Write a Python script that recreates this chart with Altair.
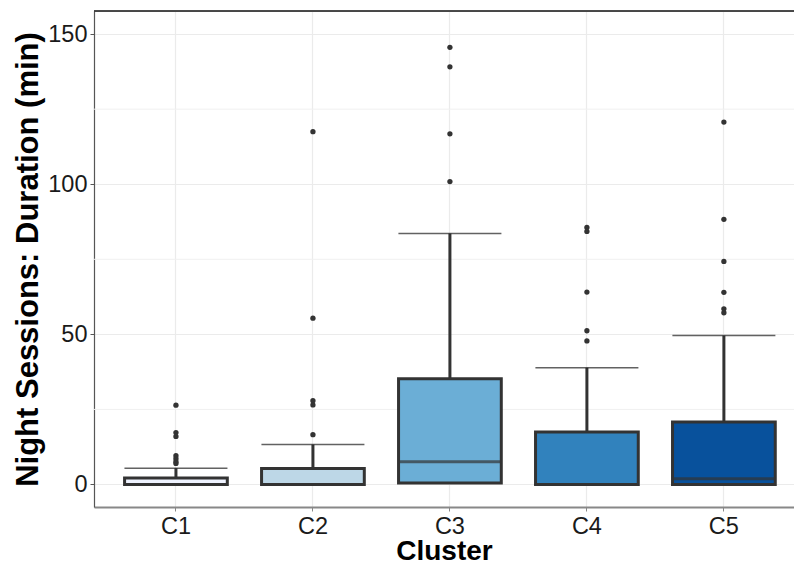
import altair as alt
import pandas as pd

clusters = ["C1", "C2", "C3", "C4", "C5"]
q1 = [0.0, 0.0, 0.5, 0.0, 0.0]
medians = [0.0, 0.0, 7.6, 0.0, 1.9]
q3 = [2.2, 5.3, 35.2, 17.5, 20.8]
upper = [5.4, 13.3, 83.6, 38.9, 49.6]
fills = ["#EFF3FF", "#BDD7E7", "#6BAED6", "#3182BD", "#08519C"]

out_c1 = [26.4, 17.3, 16.0, 9.6, 8.6, 7.6, 7.0]
out_c2 = [117.5, 55.4, 27.9, 26.5, 16.6]
out_c3 = [145.6, 139.1, 116.8, 100.9]
out_c4 = [85.6, 84.3, 64.1, 51.2, 47.8]
out_c5 = [120.7, 88.3, 74.3, 64.0, 58.5, 57.2]

minor_grid = [25, 75, 125]

box_df = pd.DataFrame({"cluster": clusters, "q1": q1, "median": medians,
                       "q3": q3, "upper": upper})
rows = []
for c, vals in zip(clusters, [out_c1, out_c2, out_c3, out_c4, out_c5]):
    for v in vals:
        rows.append({"cluster": c, "value": v})
out_df = pd.DataFrame(rows)
grid_df = pd.DataFrame({"g": minor_grid})

FONT = "Liberation Sans"
W, H = 700, 496

xscale = alt.Scale(type="band", domain=clusters, paddingInner=0.25,
                   paddingOuter=0.18, align=0.62, round=False)
yscale = alt.Scale(domain=[-7.5, 157.7], nice=False, zero=False)

xenc = alt.X("cluster:N", scale=xscale, title="Cluster",
             axis=alt.Axis(labelAngle=0, labelFontSize=23.5, labelColor="#1a1a1a",
                           titleFontSize=28, titleFontWeight="bold", titleColor="black",
                           titlePadding=-0.5, labelPadding=3, tickSize=4, tickColor="#888",
                           domainColor="#888", domainWidth=2, grid=True,
                           gridColor="#EBEBEB", gridWidth=1.2, bandPosition=0.5,
                           labelFont=FONT, titleFont=FONT))
yaxis = alt.Axis(values=[0, 50, 100, 150], labelFontSize=23.5, labelColor="#1a1a1a",
                 titleFontSize=31, titleFontWeight="bold", titleColor="black",
                 titlePadding=3, labelPadding=3, tickSize=4, tickColor="#555",
                 domainColor="#555", domainWidth=1.2, grid=True,
                 gridColor="#EBEBEB", gridWidth=1.2, labelFont=FONT, titleFont=FONT)

base = alt.Chart(box_df)

minor = alt.Chart(grid_df).mark_rule(color="#F0F0F0", strokeWidth=1).encode(
    y=alt.Y("g:Q", scale=yscale, axis=yaxis, title="Night Sessions: Duration (min)")
)

whisker = base.mark_rule(color="#333333", strokeWidth=3).encode(
    x=xenc,
    y=alt.Y("q3:Q", scale=yscale),
    y2="upper:Q",
)

caps = base.mark_tick(color="#1f1f1f", thickness=1.5, size=103, orient="horizontal").encode(
    x=alt.X("cluster:N", scale=xscale),
    y=alt.Y("upper:Q", scale=yscale),
)

boxes = base.mark_bar(stroke="#333333", strokeWidth=3).encode(
    x=alt.X("cluster:N", scale=xscale),
    y=alt.Y("q1:Q", scale=yscale),
    y2="q3:Q",
    fill=alt.Fill("cluster:N", scale=alt.Scale(domain=clusters, range=fills), legend=None),
)

med = base.mark_tick(color="#333333", thickness=3, size=103, orient="horizontal").encode(
    x=alt.X("cluster:N", scale=xscale),
    y=alt.Y("median:Q", scale=yscale),
)

points = alt.Chart(out_df).mark_circle(color="#333333", size=28, opacity=1).encode(
    x=alt.X("cluster:N", scale=xscale),
    y=alt.Y("value:Q", scale=yscale),
)

top_border = alt.Chart(grid_df).mark_rule(color="#333333", strokeWidth=1.2).encode(
    x=alt.value(0), x2=alt.value(W), y=alt.value(0)
)

chart = alt.layer(minor, whisker, caps, boxes, med, points, top_border).properties(
    width=W, height=H,
    autosize=alt.AutoSizeParams(type="none"),
    padding={"left": 86, "top": 3, "right": 0, "bottom": 53},
).configure_view(stroke=None).configure(background="white")

chart.save("out.html", embed_options={"renderer": "svg", "actions": False})
